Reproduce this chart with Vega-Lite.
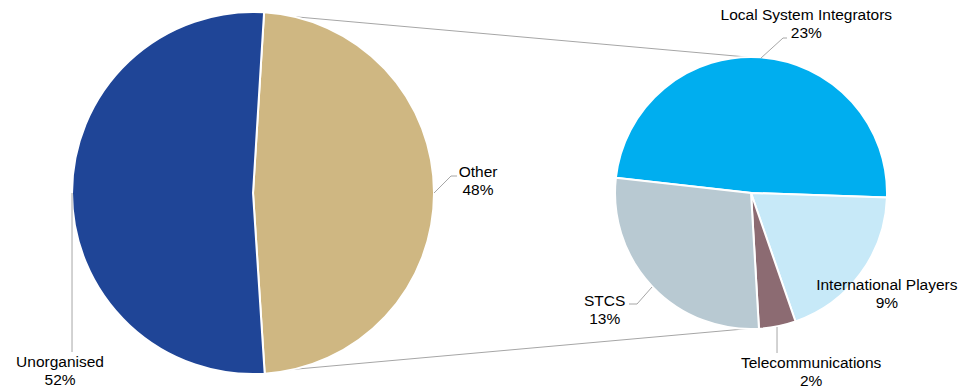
{
  "$schema": "https://vega.github.io/schema/vega-lite/v6.json",
  "width": 972,
  "height": 386,
  "autosize": {"type": "none"},
  "padding": {"left": 0, "top": 0, "right": 0, "bottom": 4},
  "background": "#ffffff",
  "config": {"view": {"stroke": null}, "font": "Liberation Sans"},
  "datasets": {
    "shares": [
      {"pie": "Market", "segment": "Other", "share": 48, "order": 1},
      {"pie": "Market", "segment": "Unorganised", "share": 52, "order": 2},
      {"pie": "Other breakdown", "segment": "Local System Integrators", "share": 23.4, "order": 1},
      {"pie": "Other breakdown", "segment": "International Players", "share": 9.2, "order": 2},
      {"pie": "Other breakdown", "segment": "Telecommunications", "share": 2.1, "order": 3},
      {"pie": "Other breakdown", "segment": "STCS", "share": 13.3, "order": 4}
    ],
    "links": [
      {"from": "Market", "to": "Other breakdown", "edge": "top"},
      {"from": "Market", "to": "Other breakdown", "edge": "bottom"}
    ]
  },
  "data": {"name": "shares"},
  "layer": [
    {
      "data": {"name": "links"},
      "transform": [{"filter": "datum.edge == 'top'"}],
      "mark": {"type": "rule", "color": "#a6a6a6", "strokeWidth": 1, "xOffset": 11, "x2Offset": 7, "yOffset": -179, "y2Offset": -135},
      "encoding": {
        "x": {"field": "from", "type": "nominal", "axis": null, "scale": {"type": "point", "domain": ["Market", "Other breakdown"], "padding": 0.4759, "align": 0.5338}},
        "x2": {"field": "to"},
        "y": {"value": {"expr": "height/2"}},
        "y2": {"value": {"expr": "height/2"}}
      }
    },
    {
      "data": {"name": "links"},
      "transform": [{"filter": "datum.edge == 'bottom'"}],
      "mark": {"type": "rule", "color": "#a6a6a6", "strokeWidth": 1, "xOffset": 11, "x2Offset": 4, "yOffset": 179, "y2Offset": 135},
      "encoding": {
        "x": {"field": "from", "type": "nominal", "axis": null, "scale": {"type": "point", "domain": ["Market", "Other breakdown"], "padding": 0.4759, "align": 0.5338}},
        "x2": {"field": "to"},
        "y": {"value": {"expr": "height/2"}},
        "y2": {"value": {"expr": "height/2"}}
      }
    },
    {
      "transform": [{"filter": "datum.pie == 'Market'"}],
      "encoding": {
        "x": {"field": "pie", "type": "nominal", "axis": null, "scale": {"type": "point", "domain": ["Market", "Other breakdown"], "padding": 0.4759, "align": 0.5338}},
        "theta": {"field": "share", "type": "quantitative", "stack": true, "scale": {"range": [0.0611, 6.3443], "nice": false, "zero": true}},
        "order": {"field": "order", "type": "quantitative"}
      },
      "layer": [
        {
          "mark": {"type": "arc", "outerRadius": 181, "stroke": "#ffffff", "strokeWidth": 2},
          "encoding": {
            "color": {"field": "segment", "type": "nominal", "legend": null, "scale": {"domain": ["Unorganised", "Other", "Local System Integrators", "International Players", "Telecommunications", "STCS"], "range": ["#1f4597", "#cfb782", "#00aeef", "#c7e9f8", "#8c6b72", "#b8c9d2"]}}
          }
        },
        {
          "mark": {
            "type": "text", "radius": 225, "fontSize": 15.5, "font": "Liberation Sans", "lineHeight": 18,
            "align": "center", "baseline": "middle", "color": "#000000",
            "text": {"expr": "[datum.segment, format(datum.share, '.0f') + '%']"},
            "dx": {"expr": "datum.segment == 'Unorganised' ? 32 : 0"},
            "dy": {"expr": "datum.segment == 'Unorganised' ? 169 : -21"}
          }
        }
      ]
    },
    {
      "transform": [{"filter": "datum.pie == 'Other breakdown'"}],
      "encoding": {
        "x": {"field": "pie", "type": "nominal", "axis": null, "scale": {"type": "point", "domain": ["Market", "Other breakdown"], "padding": 0.4759, "align": 0.5338}},
        "theta": {"field": "share", "type": "quantitative", "stack": true, "scale": {"range": [-1.4591, 4.8241], "nice": false, "zero": true}},
        "order": {"field": "order", "type": "quantitative"}
      },
      "layer": [
        {
          "mark": {"type": "arc", "outerRadius": 136, "stroke": "#ffffff", "strokeWidth": 2},
          "encoding": {
            "color": {"field": "segment", "type": "nominal", "legend": null, "scale": {"domain": ["Unorganised", "Other", "Local System Integrators", "International Players", "Telecommunications", "STCS"], "range": ["#1f4597", "#cfb782", "#00aeef", "#c7e9f8", "#8c6b72", "#b8c9d2"]}}
          }
        },
        {
          "mark": {
            "type": "text", "radius": 170, "fontSize": 15.5, "font": "Liberation Sans", "lineHeight": 18,
            "align": "center", "baseline": "middle", "color": "#000000",
            "text": {"expr": "[datum.segment, format(datum.share, '.0f') + '%']"},
            "dx": {"expr": "datum.segment == 'Local System Integrators' ? 43 : datum.segment == 'International Players' ? -1 : datum.segment == 'Telecommunications' ? 27 : -23"},
            "dy": {"expr": "datum.segment == 'Telecommunications' ? 3.7 : datum.segment == 'International Players' ? -9 : -8.5"}
          }
        }
      ]
    },
    {
      "transform": [{"filter": "datum.segment == 'Other'"}],
      "mark": {"type": "rule", "color": "#a6a6a6", "strokeWidth": 1, "xOffset": 181, "x2Offset": 198, "yOffset": 0, "y2Offset": -17},
      "encoding": {
        "x": {"field": "pie", "type": "nominal", "axis": null},
        "x2": {"field": "pie"},
        "y": {"value": {"expr": "height/2"}},
        "y2": {"value": {"expr": "height/2"}}
      }
    },
    {
      "transform": [{"filter": "datum.segment == 'Other'"}],
      "mark": {"type": "rule", "color": "#a6a6a6", "strokeWidth": 1, "xOffset": 198, "x2Offset": 204, "yOffset": -17, "y2Offset": -17},
      "encoding": {
        "x": {"field": "pie", "type": "nominal", "axis": null},
        "x2": {"field": "pie"},
        "y": {"value": {"expr": "height/2"}},
        "y2": {"value": {"expr": "height/2"}}
      }
    },
    {
      "transform": [{"filter": "datum.segment == 'Unorganised'"}],
      "mark": {"type": "rule", "color": "#a6a6a6", "strokeWidth": 1, "xOffset": -181, "x2Offset": -181, "yOffset": 0, "y2Offset": 159},
      "encoding": {
        "x": {"field": "pie", "type": "nominal", "axis": null},
        "x2": {"field": "pie"},
        "y": {"value": {"expr": "height/2"}},
        "y2": {"value": {"expr": "height/2"}}
      }
    },
    {
      "transform": [{"filter": "datum.segment == 'Local System Integrators'"}],
      "mark": {"type": "rule", "color": "#a6a6a6", "strokeWidth": 1, "xOffset": 10, "x2Offset": 32, "yOffset": -135, "y2Offset": -155},
      "encoding": {
        "x": {"field": "pie", "type": "nominal", "axis": null},
        "x2": {"field": "pie"},
        "y": {"value": {"expr": "height/2"}},
        "y2": {"value": {"expr": "height/2"}}
      }
    },
    {
      "transform": [{"filter": "datum.segment == 'Local System Integrators'"}],
      "mark": {"type": "rule", "color": "#a6a6a6", "strokeWidth": 1, "xOffset": 32, "x2Offset": 36, "yOffset": -155, "y2Offset": -155},
      "encoding": {
        "x": {"field": "pie", "type": "nominal", "axis": null},
        "x2": {"field": "pie"},
        "y": {"value": {"expr": "height/2"}},
        "y2": {"value": {"expr": "height/2"}}
      }
    },
    {
      "transform": [{"filter": "datum.segment == 'STCS'"}],
      "mark": {"type": "rule", "color": "#a6a6a6", "strokeWidth": 1, "xOffset": -99, "x2Offset": -114, "yOffset": 94, "y2Offset": 111},
      "encoding": {
        "x": {"field": "pie", "type": "nominal", "axis": null},
        "x2": {"field": "pie"},
        "y": {"value": {"expr": "height/2"}},
        "y2": {"value": {"expr": "height/2"}}
      }
    },
    {
      "transform": [{"filter": "datum.segment == 'STCS'"}],
      "mark": {"type": "rule", "color": "#a6a6a6", "strokeWidth": 1, "xOffset": -114, "x2Offset": -122, "yOffset": 111, "y2Offset": 111},
      "encoding": {
        "x": {"field": "pie", "type": "nominal", "axis": null},
        "x2": {"field": "pie"},
        "y": {"value": {"expr": "height/2"}},
        "y2": {"value": {"expr": "height/2"}}
      }
    },
    {
      "transform": [{"filter": "datum.segment == 'Telecommunications'"}],
      "mark": {"type": "rule", "color": "#a6a6a6", "strokeWidth": 1, "xOffset": 26, "x2Offset": 26, "yOffset": 134, "y2Offset": 160},
      "encoding": {
        "x": {"field": "pie", "type": "nominal", "axis": null},
        "x2": {"field": "pie"},
        "y": {"value": {"expr": "height/2"}},
        "y2": {"value": {"expr": "height/2"}}
      }
    }
  ],
  "resolve": {"scale": {"theta": "independent"}}
}
